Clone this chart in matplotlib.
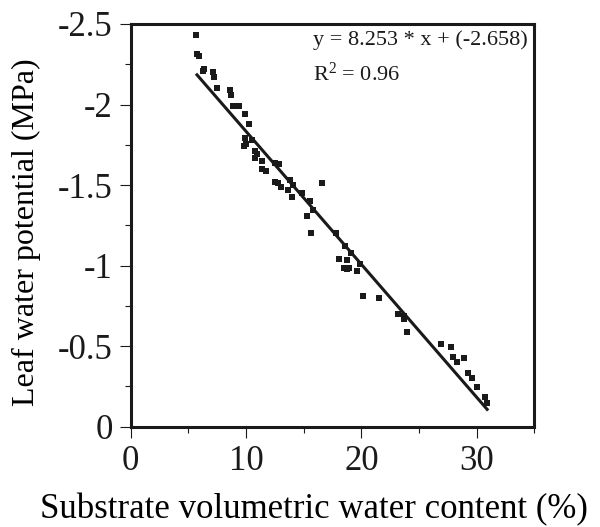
import matplotlib
matplotlib.use("Agg")
import matplotlib.pyplot as plt
import numpy as np

plt.rcParams['font.family'] = ['Liberation Serif', 'DejaVu Serif']
plt.rcParams['mathtext.fontset'] = 'custom'
plt.rcParams['mathtext.rm'] = 'Liberation Serif'
plt.rcParams['mathtext.default'] = 'regular'

# Data (substrate volumetric water content %, leaf water potential MPa)
vwc = [5.66, 5.78, 5.90, 6.36, 6.30, 7.11, 7.18, 7.46, 8.61, 8.70, 8.85, 9.41,
       9.91, 10.23, 9.91, 10.49, 9.85, 10.00, 10.75, 10.93, 10.75, 11.36, 11.36,
       11.71, 12.52, 12.89, 12.52, 12.80, 13.01, 13.82, 13.67, 14.05, 13.96,
       14.83, 15.55, 15.78, 15.32, 16.57, 15.64, 17.78, 18.56, 19.11, 18.07,
       18.73, 18.46, 18.73, 18.96, 19.60, 19.86, 20.12, 21.51, 23.18, 23.68,
       23.70, 23.99, 26.91, 27.75, 27.93, 28.27, 28.91, 29.28, 29.57, 30.01,
       30.73, 30.88]
lwp = [-2.431, -2.312, -2.301, -2.219, -2.208, -2.202, -2.172, -2.102, -2.093,
       -2.059, -1.991, -1.991, -1.941, -1.882, -1.790, -1.778, -1.742, -1.753,
       -1.711, -1.690, -1.670, -1.649, -1.602, -1.589, -1.637, -1.631, -1.521,
       -1.511, -1.490, -1.531, -1.472, -1.500, -1.423, -1.453, -1.402, -1.347,
       -1.310, -1.511, -1.201, -1.201, -1.119, -1.076, -1.039, -1.035, -0.988,
       -0.979, -0.988, -0.966, -1.009, -0.811, -0.802, -0.700, -0.690, -0.667,
       -0.590, -0.511, -0.497, -0.431, -0.403, -0.425, -0.331, -0.300, -0.248,
       -0.186, -0.149]

fit_slope = 0.08253
fit_intercept = -2.658
fit_range = [5.74, 30.9]

xticks = [0, 10, 20, 30]
yticks = [0, -0.5, -1, -1.5, -2, -2.5]
ytick_labels = ['0', '-0.5', '-1', '-1.5', '-2', '-2.5']

fig = plt.figure(figsize=(6.0, 5.27), dpi=100)
ax = fig.add_axes([0.218, 0.1903, 0.6727, 0.7642])

ax.scatter(vwc, lwp, marker='s', s=16, color='#1a1a1a', linewidths=0, zorder=3)
fx = np.array(fit_range)
ax.plot(fx, fit_slope * fx + fit_intercept, color='#1a1a1a', lw=2.2, zorder=2)

ax.set_xlim(0, 35)
ax.set_ylim(0, -2.5)
ax.set_xticks(xticks)
ax.set_xticks([5, 15, 25, 35], minor=True)
ax.set_yticks(yticks)
ax.set_yticklabels(ytick_labels)
ax.set_yticks([-0.25, -0.75, -1.25, -1.75, -2.25], minor=True)

for s in ax.spines.values():
    s.set_linewidth(2.2)
    s.set_color('#1a1a1a')
ax.tick_params(axis='both', which='major', direction='out', length=8, width=0.8,
               labelsize=25, colors='#1a1a1a', pad=5)
ax.tick_params(axis='both', which='minor', direction='out', length=4, width=0.8,
               colors='#1a1a1a')

ax.set_xlabel('Substrate volumetric water content (%)', fontsize=25)
ax.xaxis.set_label_coords(0.454, -0.165)
ax.set_ylabel('Leaf water potential (MPa)', fontsize=23)
ax.yaxis.set_label_coords(-0.222, 0.484)

ax.text(0.452, 0.948, 'y = 8.253 * x + (-2.658)', transform=ax.transAxes,
        fontsize=16, ha='left', va='baseline', color='#1a1a1a')
ax.text(0.452, 0.858, 'R$^{2}$ = 0.96', transform=ax.transAxes,
        fontsize=16, ha='left', va='baseline', color='#1a1a1a')

fig.savefig('out.png', dpi=100)
